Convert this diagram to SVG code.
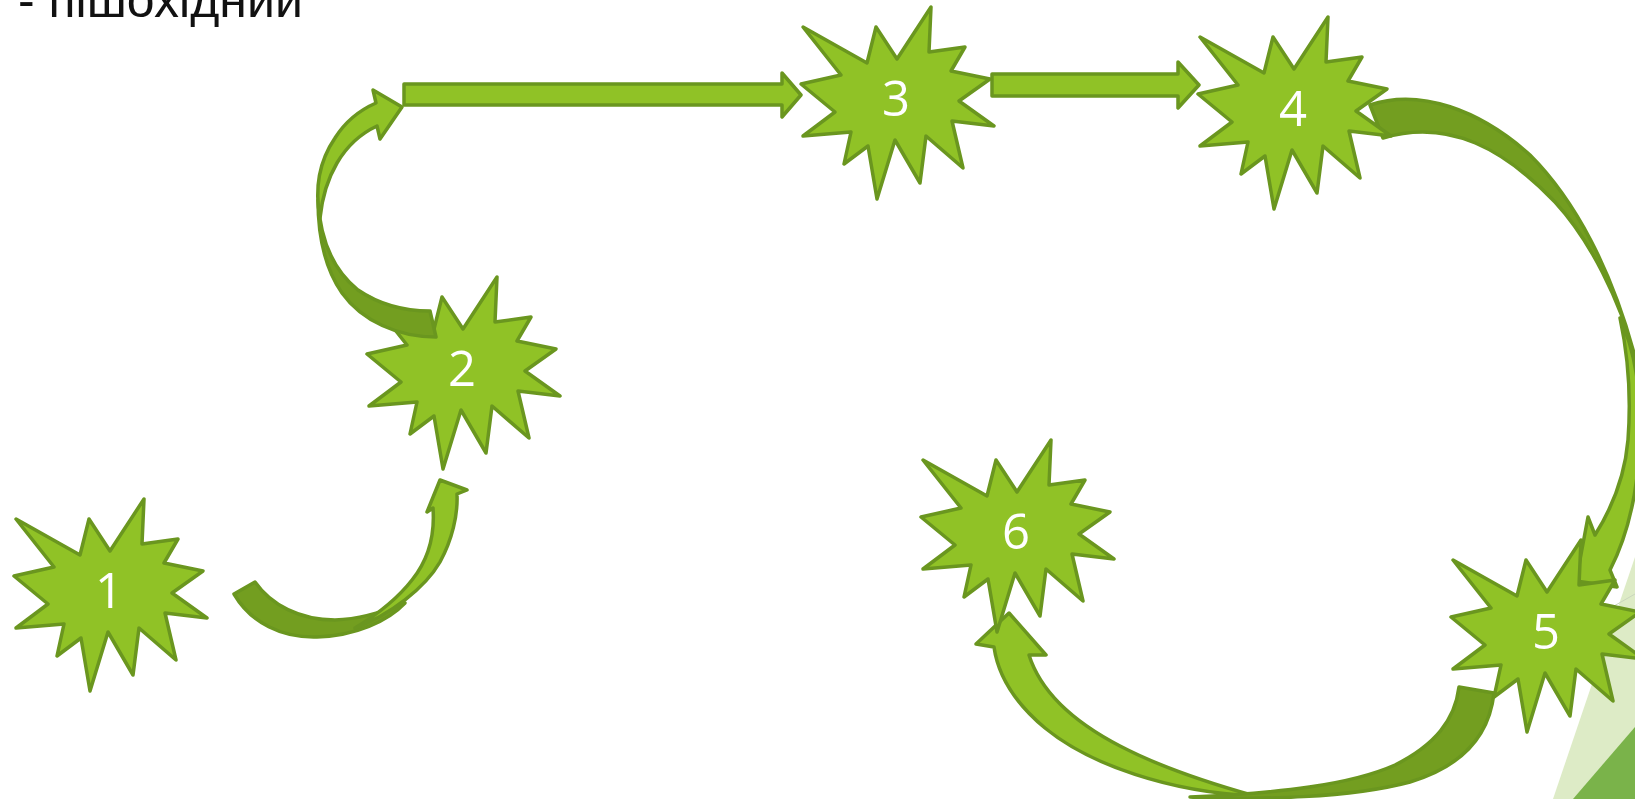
<svg xmlns="http://www.w3.org/2000/svg" xmlns:xlink="http://www.w3.org/1999/xlink" width="1635" height="799" viewBox="0 0 1635 799">
  <style>
    .star { fill: #90C226; stroke: #6A961F; stroke-width: 3.5; stroke-linejoin: round; }
    .lbl { fill: #FFFFFF; font-family: "Open Sans", "Noto Sans", sans-serif; font-size: 49px; text-anchor: middle; }
    .lt { fill: #90C226; stroke: #6A961F; stroke-width: 3.5; stroke-linejoin: round; }
    .dk { fill: #739E20; stroke: #6A961F; stroke-width: 3.5; stroke-linejoin: round; }
    .title { fill: #111111; font-family: "Liberation Sans", Arial, sans-serif; font-size: 50px; }
  </style>
  <defs>
    <path id="star" class="star" d="M2,20 L66,56 L75,20 L96,52 L130,0 L128,45 L164,40 L150,64 L189,72 L158,94 L193,119 L151,114 L162,161 L125,129 L119,176 L94,133 L76,192 L67,139 L43,157 L50,125 L2,129 L34,105 L0,77 L40,68 Z"/>
  </defs>
  <rect width="1635" height="799" fill="#FFFFFF"/>
  <g id="background">
    <polygon points="1553,799 1635,557 1635,799" fill="#DDEBC6"/>
    <line x1="1600" y1="614" x2="1635" y2="594" stroke="#C9D5BD" stroke-width="1"/>
    <polygon points="1573,799 1635,727 1635,799" fill="#7AB34A"/>
  </g>
  <text class="title" x="18" y="17">- пішохідний</text>

  <g id="node2">
    <use xlink:href="#star" href="#star" x="367" y="277"/>
    <text class="lbl" x="462" y="386">2</text>
  </g>

  <g id="connectors">
    <g id="arrow-1-2">
      <path class="dk" d="M234,594 L255,582 C271,605 300,620 335,620 C362,619 388,610 405,603 C388,621 355,636 317,637 C282,638 251,623 234,594 Z"/>
      <path class="lt" d="M355,628 C390,615 425,588 440,562 C452,540 458,515 457,494 L467,490 L440,480 L427,512 L433,508 C435,535 428,560 412,580 C398,598 378,614 355,628 Z"/>
    </g>
    <g id="arrow-2-3a">
      <path class="dk" d="M430,311 L436,337 C398,337 362,321 342,293 C326,270 318,238 318,200 C320,238 333,270 358,290 C380,305 405,311 430,311 Z"/>
      <path class="lt" d="M320,218 C314,186 320,160 335,138 C345,122 360,110 376,103 L373,90 L402,107 L380,139 L377,126 C362,133 347,146 337,163 C327,180 322,198 320,218 Z"/>
    </g>
    <polygon id="arrow-2-3b" class="lt" points="404,84 782,84 782,73 801,95 782,117 782,105 404,105"/>
    <polygon id="arrow-3-4" class="lt" points="992,74 1178,74 1178,62 1199,85 1178,108 1178,96 992,96"/>
    <g id="arrow-4-5">
      <path class="dk" d="M1370,105 C1420,88 1480,110 1530,155 C1575,200 1612,270 1635,357 C1620,300 1590,240 1555,202 C1505,150 1450,118 1383,138 Z"/>
      <path class="lt" d="M1620,318 C1635,350 1642,395 1640,440 C1638,490 1628,535 1610,570 L1617,587 L1576,581 L1588,517 L1595,535 C1612,508 1625,475 1628,440 C1631,400 1628,355 1620,318 Z"/>
    </g>
    <g id="arrow-5-6">
      <path class="lt" d="M1255,796 C1170,792 1090,765 1045,728 C1015,703 998,675 994,647 L976,644 L1009,613 L1046,655 L1029,655 C1040,690 1070,720 1120,746 C1160,767 1205,782 1255,796 Z"/>
      <path class="dk" d="M1459,687 L1494,693 C1489,737 1460,767 1410,782 C1350,798 1260,800 1190,797 C1280,793 1350,785 1395,765 C1435,745 1455,720 1459,687 Z"/>
    </g>
  </g>

  <g id="node1">
    <use xlink:href="#star" href="#star" x="14" y="499"/>
    <text class="lbl" x="109" y="608">1</text>
  </g>
  <g id="node3">
    <use xlink:href="#star" href="#star" x="801" y="7"/>
    <text class="lbl" x="896" y="116">3</text>
  </g>
  <g id="node4">
    <use xlink:href="#star" href="#star" x="1198" y="17"/>
    <text class="lbl" x="1293" y="126">4</text>
  </g>
  <g id="node5">
    <use xlink:href="#star" href="#star" x="1451" y="540"/>
    <text class="lbl" x="1546" y="649">5</text>
  </g>
  <g id="node6">
    <use xlink:href="#star" href="#star" x="921" y="440"/>
    <text class="lbl" x="1016" y="549">6</text>
  </g>
</svg>
